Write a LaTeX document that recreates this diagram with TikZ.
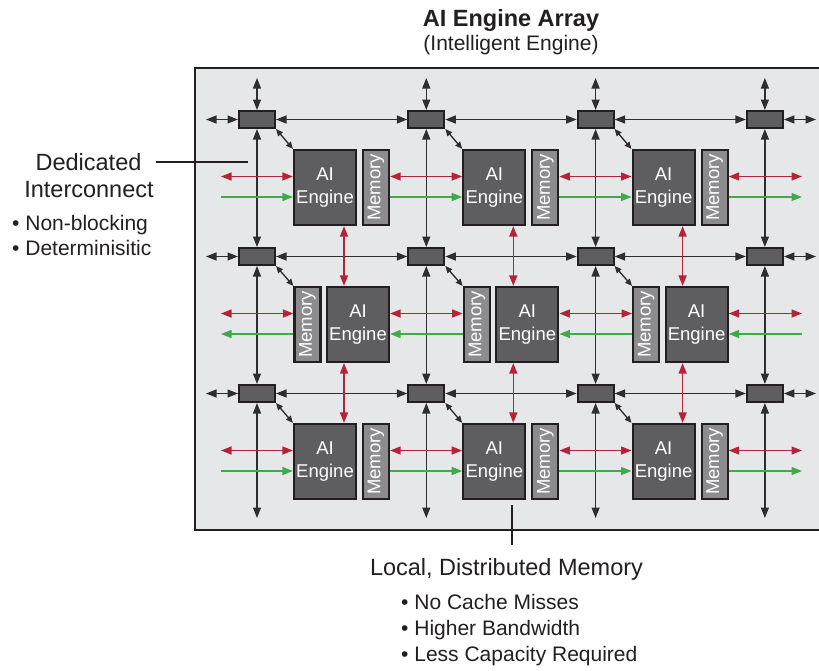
\documentclass[tikz,border=0pt]{standalone}
\usepackage{fontspec}
\usepackage{graphicx}
\setmainfont{Liberation Sans}
\usetikzlibrary{arrows.meta,calc}
\definecolor{boxbg}{HTML}{E6E7E8}
\definecolor{bord}{HTML}{231F20}
\definecolor{engfill}{HTML}{5E5E60}
\definecolor{memfill}{HTML}{8C8C8E}
\definecolor{lnk}{HTML}{2E2E30}
\definecolor{redc}{HTML}{B5233B}
\definecolor{grnc}{HTML}{3FAA4A}
\begin{document}
\begin{tikzpicture}[x=1pt,y=-1pt,
  >={Triangle[length=10.5pt,width=8pt]},
  engbox/.style={draw=bord,line width=2.2pt,fill=engfill,minimum width=62pt,minimum height=75pt,inner sep=0pt,text=white,align=center,font=\fontsize{18.5}{22.5}\selectfont},
  membox/.style={draw=bord,line width=2.2pt,fill=memfill,minimum width=26pt,minimum height=75pt,inner sep=0pt,text=white,font=\fontsize{18.5}{22.5}\selectfont},
  swbox/.style={draw=bord,line width=2pt,fill=engfill,minimum width=36pt,minimum height=17pt,inner sep=0pt},
  blk/.style={draw=lnk,line width=1.35pt,<->},
  diag/.style={draw=lnk,line width=1.35pt,{Triangle[length=7pt,width=6pt]}-{Triangle[length=7pt,width=6pt]}},
  redarr/.style={draw=redc,line width=1.4pt,<->},
  grnarr/.style={draw=grnc,line width=1.4pt,->},
  lead/.style={draw=bord,line width=1.1pt},
  lbl/.style={inner sep=0pt,text=bord},
  big/.style={font=\fontsize{23.5}{26}\selectfont},
  small/.style={font=\fontsize{21}{24}\selectfont}]
\useasboundingbox (0,0) rectangle (819,670);
\fill[white] (0,0) rectangle (819,670);
\draw[draw=bord,line width=2.5pt,fill=boxbg] (195,68) rectangle (823,530);

% switches
\foreach \i in {0,...,3} {
  \foreach \j in {0,1,2} {
    \node[swbox] (s\i\j) at ({257+169.3*\i},{119.5+137*\j}) {};
  }
}
% engines and memories
\foreach \i in {0,1,2} {
  \foreach \j in {0,2} {
    \node[engbox] (e\i\j) at ({325+169.3*\i},{187.5+137*\j}) {AI\\Engine};
    \node[membox] (m\i\j) at ({376+169.3*\i},{187.5+137*\j}) {\rotatebox{90}{Memory}};
  }
  \node[membox] (m\i1) at ({307.5+169.3*\i},324.5) {\rotatebox{90}{Memory}};
  \node[engbox] (e\i1) at ({358+169.3*\i},324.5) {AI\\Engine};
}

% switch network
\foreach \i in {0,...,3} {
  \coordinate (t\i) at ({257+169.3*\i},78);
  \coordinate (b\i) at ({257+169.3*\i},518);
  \draw[blk] (t\i) -- (s\i0);
  \draw[blk] (s\i0) -- (s\i1);
  \draw[blk] (s\i1) -- (s\i2);
  \draw[blk] (s\i2) -- (b\i);
}
\foreach \j in {0,1,2} {
  \coordinate (l\j) at (206,{119.5+137*\j});
  \coordinate (r\j) at (816,{119.5+137*\j});
  \draw[blk] (l\j) -- (s0\j);
  \draw[blk] (s0\j) -- (s1\j);
  \draw[blk] (s1\j) -- (s2\j);
  \draw[blk] (s2\j) -- (s3\j);
  \draw[blk] (s3\j) -- (r\j);
}
\foreach \i in {0,1,2} {
  \draw[diag] (s\i0.south east) -- (e\i0.north west);
  \draw[diag] (s\i1.south east) -- (m\i1.north west);
  \draw[diag] (s\i2.south east) -- (e\i2.north west);
  \draw[redarr] ([xshift=19pt]e\i0.south) -- ([xshift=19pt]e\i0.south |- e\i1.north);
  \draw[redarr] ([xshift=19pt]e\i0.south |- e\i1.south) -- ([xshift=19pt]e\i0.south |- e\i2.north);
}

% cascade streams, rows 0 and 2 (left to right)
\foreach \j/\yc in {0/187.5,2/461.5} {
  \coordinate (lr\j) at (221,\yc-11);
  \coordinate (lg\j) at (221,\yc+9.5);
  \coordinate (rr\j) at (802,\yc-11);
  \coordinate (rg\j) at (802,\yc+9.5);
  \draw[redarr] (lr\j) -- ([yshift=11pt]e0\j.west);
  \draw[grnarr] (lg\j) -- ([yshift=-9.5pt]e0\j.west);
  \draw[redarr] ([yshift=11pt]m0\j.east) -- ([yshift=11pt]e1\j.west);
  \draw[grnarr] ([yshift=-9.5pt]m0\j.east) -- ([yshift=-9.5pt]e1\j.west);
  \draw[redarr] ([yshift=11pt]m1\j.east) -- ([yshift=11pt]e2\j.west);
  \draw[grnarr] ([yshift=-9.5pt]m1\j.east) -- ([yshift=-9.5pt]e2\j.west);
  \draw[redarr] ([yshift=11pt]m2\j.east) -- (rr\j);
  \draw[grnarr] ([yshift=-9.5pt]m2\j.east) -- (rg\j);
}
% row 1 (right to left)
\coordinate (lr1) at (221,313.5);
\coordinate (lg1) at (221,334);
\coordinate (rr1) at (802,313.5);
\coordinate (rg1) at (802,334);
\draw[redarr] (lr1) -- ([yshift=11pt]m01.west);
\draw[grnarr] ([yshift=-9.5pt]m01.west) -- (lg1);
\draw[redarr] ([yshift=11pt]e01.east) -- ([yshift=11pt]m11.west);
\draw[grnarr] ([yshift=-9.5pt]m11.west) -- ([yshift=-9.5pt]e01.east);
\draw[redarr] ([yshift=11pt]e11.east) -- ([yshift=11pt]m21.west);
\draw[grnarr] ([yshift=-9.5pt]m21.west) -- ([yshift=-9.5pt]e11.east);
\draw[redarr] ([yshift=11pt]e21.east) -- (rr1);
\draw[grnarr] (rg1) -- ([yshift=-9.5pt]e21.east);

% labels
\node[lbl,anchor=base,font=\bfseries\fontsize{23.5}{26}\selectfont] (title) at (511,26) {AI Engine Array};
\node[lbl,anchor=base,small] (subtitle) at (511,50) {(Intelligent Engine)};

\node[lbl,anchor=base,big] (ded) at (88.5,170) {Dedicated};
\node[lbl,anchor=base,big] (inter) at (89,197) {Interconnect};
\node[lbl,anchor=base west,small] (nb) at (12,230) {\textbullet\ Non-blocking};
\node[lbl,anchor=base west,small] (det) at (12,255) {\textbullet\ Determinisitic};
\coordinate (dedstart) at (156,162);
\coordinate (dedend) at (248,162);
\draw[lead] (dedstart) -- (dedend);

\node[lbl,anchor=base,big] (local) at (506.5,575.7) {Local, Distributed Memory};
\node[lbl,anchor=base west,small] (b1) at (401,609) {\textbullet\ No Cache Misses};
\node[lbl,anchor=base west,small] (b2) at (401,635.7) {\textbullet\ Higher Bandwidth};
\node[lbl,anchor=base west,small] (b3) at (401,661.7) {\textbullet\ Less Capacity Required};
\coordinate (loctop) at (512,505);
\coordinate (locbot) at (512,545);
\draw[lead] (loctop) -- (locbot);
\end{tikzpicture}
\end{document}
